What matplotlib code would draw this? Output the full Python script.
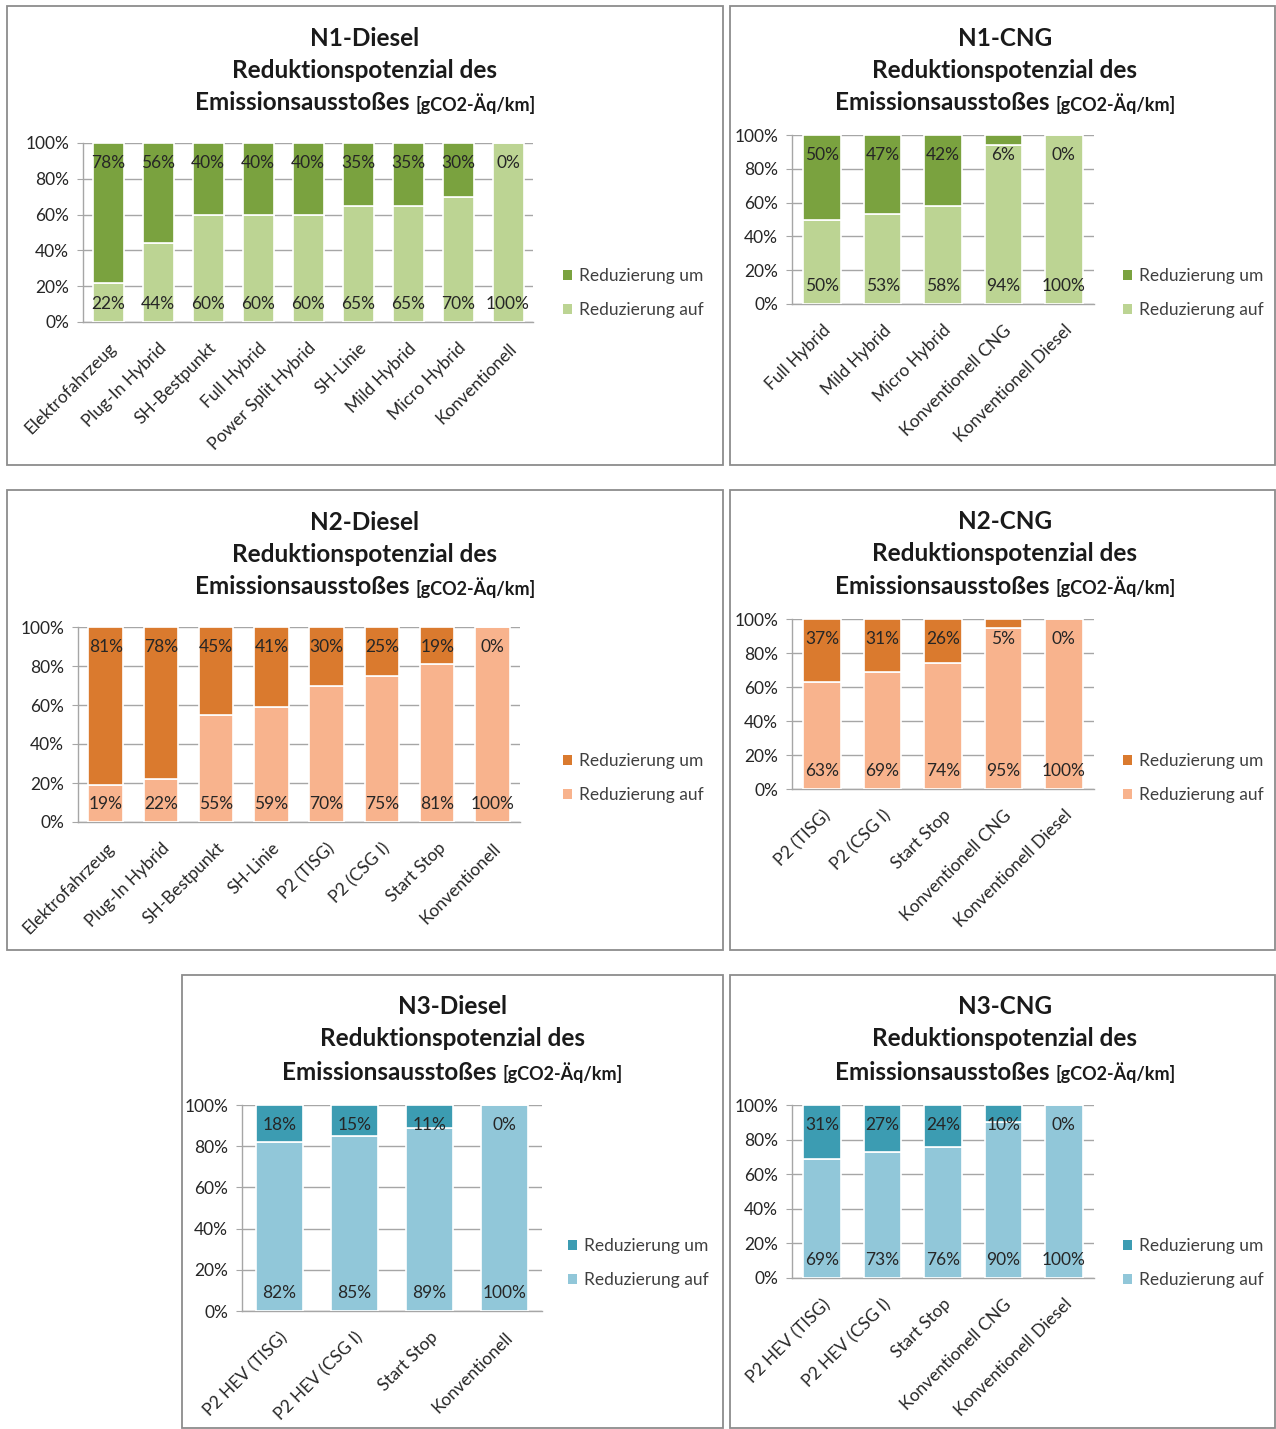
import matplotlib
matplotlib.use("Agg")
import matplotlib.pyplot as plt
from matplotlib.patches import Rectangle, Patch

plt.rcParams['font.family'] = ['Lato', 'DejaVu Sans']

W, H = 1276, 1429

# ---------------- data ----------------
n1d_cats = ["Elektrofahrzeug", "Plug-In Hybrid", "SH-Bestpunkt", "Full Hybrid",
            "Power Split Hybrid", "SH-Linie", "Mild Hybrid", "Micro Hybrid", "Konventionell"]
n1d_auf = [22, 44, 60, 60, 60, 65, 65, 70, 100]
n1d_um = [78, 56, 40, 40, 40, 35, 35, 30, 0]

n1c_cats = ["Full Hybrid", "Mild Hybrid", "Micro Hybrid", "Konventionell CNG", "Konventionell Diesel"]
n1c_auf = [50, 53, 58, 94, 100]
n1c_um = [50, 47, 42, 6, 0]

n2d_cats = ["Elektrofahrzeug", "Plug-In Hybrid", "SH-Bestpunkt", "SH-Linie",
            "P2 (TISG)", "P2 (CSG I)", "Start Stop", "Konventionell"]
n2d_auf = [19, 22, 55, 59, 70, 75, 81, 100]
n2d_um = [81, 78, 45, 41, 30, 25, 19, 0]

n2c_cats = ["P2 (TISG)", "P2 (CSG I)", "Start Stop", "Konventionell CNG", "Konventionell Diesel"]
n2c_auf = [63, 69, 74, 95, 100]
n2c_um = [37, 31, 26, 5, 0]

n3d_cats = ["P2 HEV (TISG)", "P2 HEV (CSG I)", "Start Stop", "Konventionell"]
n3d_auf = [82, 85, 89, 100]
n3d_um = [18, 15, 11, 0]

n3c_cats = ["P2 HEV (TISG)", "P2 HEV (CSG I)", "Start Stop", "Konventionell CNG", "Konventionell Diesel"]
n3c_auf = [69, 73, 76, 90, 100]
n3c_um = [31, 27, 24, 10, 0]

titles = ["N1-Diesel", "N1-CNG", "N2-Diesel", "N2-CNG", "N3-Diesel", "N3-CNG"]
y_ticks = [0, 20, 40, 60, 80, 100]
legend_labels = ["Reduzierung um", "Reduzierung auf"]

green = ("#7aa23f", "#bcd493")
orange = ("#da7a2e", "#f8b38d")
teal = ("#3c9cb2", "#91c7d9")

# ---------------- layout (pixels) ----------------
panels = [
    dict(cats=n1d_cats, auf=n1d_auf, um=n1d_um, col=green,
         border=(7, 6, 723, 465), ax=(83, 143, 533, 322), tx=365, ty=38, leg=(563, 293)),
    dict(cats=n1c_cats, auf=n1c_auf, um=n1c_um, col=green,
         border=(730, 6, 1275, 465), ax=(792, 135, 1094, 304), tx=1005, ty=38, leg=(1123, 293)),
    dict(cats=n2d_cats, auf=n2d_auf, um=n2d_um, col=orange,
         border=(7, 490, 723, 950), ax=(78, 627, 520, 822), tx=365, ty=522, leg=(563, 778)),
    dict(cats=n2c_cats, auf=n2c_auf, um=n2c_um, col=orange,
         border=(730, 490, 1275, 950), ax=(792, 619, 1094, 789), tx=1005, ty=521, leg=(1123, 778)),
    dict(cats=n3d_cats, auf=n3d_auf, um=n3d_um, col=teal,
         border=(182, 975, 723, 1428), ax=(242, 1105, 542, 1311), tx=452, ty=1007, leg=(568, 1263)),
    dict(cats=n3c_cats, auf=n3c_auf, um=n3c_um, col=teal,
         border=(730, 975, 1275, 1428), ax=(792, 1105, 1094, 1278), tx=1005, ty=1007, leg=(1123, 1263)),
]

fig = plt.figure(figsize=(W / 100, H / 100), dpi=100)
fig.patch.set_facecolor("white")

def fx(x):
    return x / W

def fy(y):
    return 1 - y / H

TXT = "#262626"
GRID = "#a6a6a6"
title_fs = 17.5
fs = 12.5

bracket_pairs = []
for p, title in zip(panels, titles):
    l, t, r, b = p["border"]
    fig.patches.append(Rectangle((fx(l), fy(b)), fx(r - l), (b - t) / H,
                                 transform=fig.transFigure, fill=False,
                                 edgecolor="#8c8c8c", linewidth=1.3))
    al, at, ar, ab = p["ax"]
    ax = fig.add_axes([fx(al), fy(ab), fx(ar - al), (ab - at) / H])
    n = len(p["cats"])
    x = list(range(n))
    dark, light = p["col"]
    ax.bar(x, p["auf"], width=0.62, color=light, edgecolor="white", linewidth=1.2,
           label=legend_labels[1], zorder=3)
    ax.bar(x, p["um"], width=0.62, bottom=p["auf"], color=dark, edgecolor="white",
           linewidth=1.2, label=legend_labels[0], zorder=3)
    for i in x:
        ax.annotate(f"{p['um'][i]}%", xy=(i, 100), xytext=(0, -8.5), textcoords="offset points",
                    ha="center", va="top", fontsize=fs, color=TXT, zorder=4)
        ax.annotate(f"{p['auf'][i]}%", xy=(i, 0), xytext=(0, 7), textcoords="offset points",
                    ha="center", va="bottom", fontsize=fs, color=TXT, zorder=4)
    ax.set_xlim(-0.5, n - 0.5)
    ax.set_ylim(0, 100)
    ax.set_yticks(y_ticks)
    ax.set_yticklabels([f"{v}%" for v in y_ticks], fontsize=fs, color=TXT)
    ax.set_xticks(x)
    ax.set_xticklabels(p["cats"], rotation=45, ha="right", rotation_mode="anchor",
                       fontsize=fs, color=TXT)
    ax.tick_params(axis="x", length=0, pad=13)
    ax.tick_params(axis="y", length=4, color=GRID, pad=6)
    ax.yaxis.grid(True, color=GRID, linewidth=1.0, zorder=0)
    ax.set_axisbelow(True)
    for s in ("top", "right"):
        ax.spines[s].set_visible(False)
    for s in ("left", "bottom"):
        ax.spines[s].set_color(GRID)
        ax.spines[s].set_linewidth(1.0)
    handles = [Patch(facecolor=dark), Patch(facecolor=light)]
    lx, ly = p["leg"]
    fig.legend(handles, legend_labels, loc="center left",
               bbox_to_anchor=(fx(lx), fy(ly)), bbox_transform=fig.transFigure,
               frameon=False, fontsize=fs, labelcolor="#404040",
               handlelength=0.5, handleheight=0.5, handletextpad=0.4,
               labelspacing=1.05, borderpad=0, borderaxespad=0)
    # titles
    tx, ty = p["tx"], p["ty"]
    fig.text(fx(tx), fy(ty), title, ha="center", va="center", fontsize=title_fs,
             fontweight="bold", color="#1a1a1a")
    fig.text(fx(tx), fy(ty + 32), "Reduktionspotenzial des", ha="center", va="center",
             fontsize=title_fs, fontweight="bold", color="#1a1a1a")
    t1 = fig.text(fx(tx), fy(ty + 65), "Emissionsausstoßes ", ha="left", va="center",
                  fontsize=title_fs, fontweight="bold", color="#1a1a1a")
    t2 = fig.text(fx(tx), fy(ty + 66), "[gCO2-Äq/km]", ha="left", va="center",
                  fontsize=13, fontweight="bold", color="#1a1a1a")
    bracket_pairs.append((tx, t1, t2))

fig.canvas.draw()
rend = fig.canvas.get_renderer()
for tx, t1, t2 in bracket_pairs:
    w1 = t1.get_window_extent(rend).width
    w2 = t2.get_window_extent(rend).width
    start = tx - (w1 + w2) / 2
    t1.set_x(fx(start))
    t2.set_x(fx(start + w1))

fig.savefig("out.png", dpi=100, facecolor="white")
